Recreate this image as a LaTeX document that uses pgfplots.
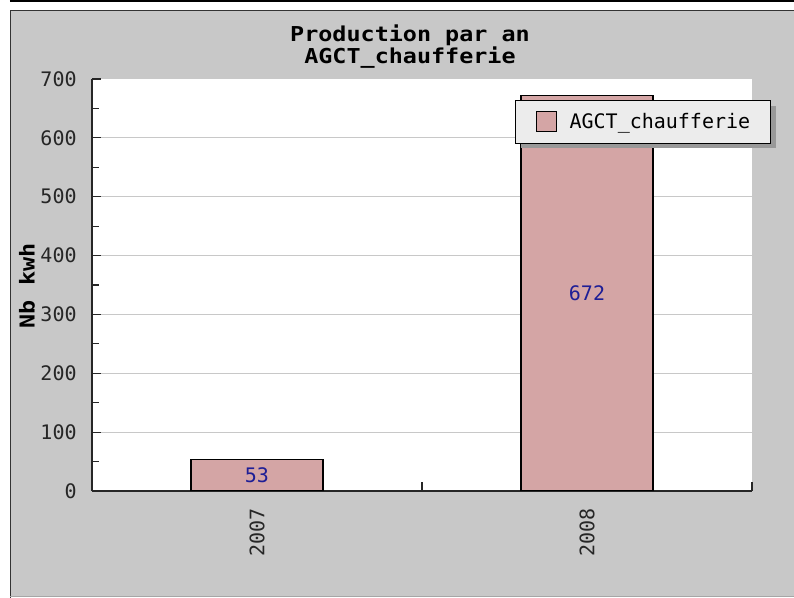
\documentclass[border=0pt]{standalone}
\usepackage{fontspec}
\usepackage{pgfplots}
\pgfplotsset{compat=1.18}
\usetikzlibrary{shadows}
\setmainfont{DejaVu Sans Mono}
\newfontfamily\titlefamily[FakeStretch=1.14]{DejaVu Sans Mono}
\definecolor{bgpanel}{HTML}{C8C8C8}
\definecolor{barpink}{HTML}{D4A5A5}
\definecolor{valblue}{HTML}{1E1E96}
\definecolor{legfill}{HTML}{ECECEC}
\definecolor{gridgray}{HTML}{C8C8C8}
\newcommand\tickfont{\fontsize{15}{18}\selectfont}
\newcommand\ttlfont{\titlefamily\bfseries\fontsize{15.4}{15}\selectfont}
\makeatletter
\tikzset{no preactions/.code={\let\tikz@preactions\pgfutil@empty}}
\makeatother
\begin{document}
\begin{tikzpicture}
\begin{scope}[x=0.75pt,y=-0.75pt,shift={(-92,-491)}]
\useasboundingbox (0,0) rectangle (794,598);
\fill[white] (0,0) rectangle (794,598);
\draw[black, line width=1.1pt] (10,1) -- (794,1);
\fill[bgpanel] (10,10) rectangle (794,597);
\draw[black!80, line width=1pt] (10.5,598) -- (10.5,10.5) -- (794,10.5);
\draw[black!35, line width=0.75pt] (10,597) -- (794,597);
\node[font=\ttlfont, align=center, inner sep=0pt, anchor=north] at (410,24.5) {Production par an\\AGCT\_chaufferie};
\end{scope}
\begin{axis}[
  at={(0,0)}, anchor=south west,
  scale only axis, width=495pt, height=309pt,
  xmin=-0.5, xmax=1.5, ymin=0, ymax=700,
  axis lines=left, axis line style={-, line width=1pt, black!85},
  axis background/.style={fill=white},
  ytick={0,100,...,700}, minor y tick num=1,
  xtick={0.5,1.5}, xticklabels={},
  extra x ticks={0,1}, extra x tick labels={2007,2008},
  extra x tick style={major tick length=0pt, xticklabel style={rotate=90, anchor=east, inner xsep=13pt}},
  tick align=inside, major tick length=6.75pt, minor tick length=5.25pt,
  tick style={black!85, line width=0.9pt},
  ymajorgrids, grid style={gridgray, line width=0.75pt},
  ticklabel style={font=\tickfont, text=black!85},
  /pgf/number format/assume math mode=true,
  yticklabel style={xshift=-8pt},
  ylabel={Nb kwh},
  every axis y label/.style={at={(axis description cs:-0.0985,0.4976)}, rotate=90, anchor=center, font=\ttlfont},
  legend style={at={(0.641,0.949)}, anchor=north west, fill=legfill, draw=black, line width=0.9pt,
    font=\tickfont, inner xsep=15pt, inner ysep=8pt, nodes={inner sep=0pt},
    drop shadow={shadow xshift=4pt, shadow yshift=-4pt, fill=black!40, opacity=1}},
  legend cell align=left,
]
\addplot[ybar, bar width=99pt, fill=barpink, draw=black, line width=0.9pt,
  nodes near coords, point meta=y,
  visualization depends on={rawy \as \ry},
  every node near coord/.append style={anchor=center, font=\tickfont, text=valblue,
    shift={(axis direction cs:0,-0.5*\ry)}},
  legend image code/.code={\path[draw=none, fill=none, no preactions] (0pt,0pt) -- (25pt,0pt); \draw[no preactions, fill=barpink, draw=black, line width=0.9pt] (0pt,-7.5pt) rectangle (15pt,7.5pt);}
] coordinates {(0,53) (1,672)};
\addlegendentry{AGCT\_chaufferie}
\end{axis}
\end{tikzpicture}
\end{document}
